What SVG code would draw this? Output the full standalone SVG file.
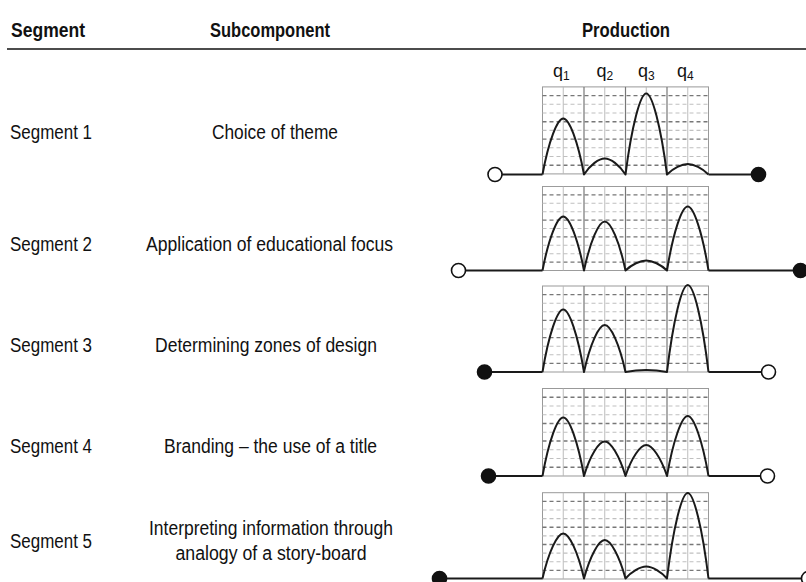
<svg xmlns="http://www.w3.org/2000/svg" xmlns:xlink="http://www.w3.org/1999/xlink" width="806" height="582" viewBox="0 0 806 582">
<style>
  .hd{font-family:"Liberation Sans Narrow","Liberation Sans",Arial,sans-serif;font-weight:bold;font-size:20px;fill:#111}
  .tx{font-family:"Liberation Sans Narrow","Liberation Sans",Arial,sans-serif;font-size:20px;fill:#111}
  .q{font-family:"Liberation Sans",Arial,sans-serif;font-size:18px;fill:#111}
  .sub{font-size:12px}
  .curve{fill:none;stroke:#1a1a1a;stroke-width:2;stroke-linejoin:round}
  .base{fill:none;stroke:#1a1a1a;stroke-width:1.8}
  .open{fill:#fff;stroke:#111;stroke-width:1.6}
  .filled{fill:#111;stroke:#111;stroke-width:1.6}
  .gb{fill:none;stroke:#999;stroke-width:1}
  .gq{stroke:#777;stroke-width:1.2}
  .gm{stroke:#b5b5b5;stroke-width:0.9}
  .dd{stroke:#777;stroke-width:1.4;stroke-dasharray:4 3}
  .dl{stroke:#c0c0c0;stroke-width:1.1;stroke-dasharray:4 3}
</style>
<defs>
  <g id="grid">
    <rect class="gb" x="0" y="0" width="166" height="87"/>
    <line class="dd" x1="0" y1="8.7" x2="166" y2="8.7"/>
    <line class="dl" x1="0" y1="17.4" x2="166" y2="17.4"/>
    <line class="dl" x1="0" y1="26.1" x2="166" y2="26.1"/>
    <line class="dd" x1="0" y1="34.8" x2="166" y2="34.8"/>
    <line class="dl" x1="0" y1="43.5" x2="166" y2="43.5"/>
    <line class="dd" x1="0" y1="52.2" x2="166" y2="52.2"/>
    <line class="dl" x1="0" y1="60.9" x2="166" y2="60.9"/>
    <line class="dl" x1="0" y1="69.6" x2="166" y2="69.6"/>
    <line class="dd" x1="0" y1="78.3" x2="166" y2="78.3"/>
    <line class="gm" x1="20.75" y1="0" x2="20.75" y2="87"/>
    <line class="gm" x1="62.25" y1="0" x2="62.25" y2="87"/>
    <line class="gm" x1="103.75" y1="0" x2="103.75" y2="87"/>
    <line class="gm" x1="145.25" y1="0" x2="145.25" y2="87"/>
    <line class="gq" x1="41.5" y1="0" x2="41.5" y2="87"/>
    <line class="gq" x1="83" y1="0" x2="83" y2="87"/>
    <line class="gq" x1="124.5" y1="0" x2="124.5" y2="87"/>
  </g>
</defs>
<rect width="806" height="582" fill="#fff"/>

<g id="header">
  <text class="hd" x="11" y="37" textLength="74" lengthAdjust="spacingAndGlyphs">Segment</text>
  <text class="hd" x="210" y="37" textLength="120" lengthAdjust="spacingAndGlyphs">Subcomponent</text>
  <text class="hd" x="582" y="37" textLength="88" lengthAdjust="spacingAndGlyphs">Production</text>
  <line x1="7" y1="49" x2="806" y2="49" stroke="#111" stroke-width="1.6"/>
</g>

<g id="segment1">
  <text class="tx" x="10" y="138.5" textLength="82" lengthAdjust="spacingAndGlyphs">Segment 1</text>
  <text class="tx" x="212" y="138.5" textLength="126" lengthAdjust="spacingAndGlyphs">Choice of theme</text>
  <use xlink:href="#grid" href="#grid" transform="translate(542.5,86.9)"/>
  <text class="q" x="553" y="77">q<tspan class="sub" dy="3">1</tspan></text>
  <text class="q" x="596.5" y="77">q<tspan class="sub" dy="3">2</tspan></text>
  <text class="q" x="638" y="77">q<tspan class="sub" dy="3">3</tspan></text>
  <text class="q" x="677" y="77">q<tspan class="sub" dy="3">4</tspan></text>
</g>

<g id="segment2">
  <text class="tx" x="10" y="251" textLength="82" lengthAdjust="spacingAndGlyphs">Segment 2</text>
  <text class="tx" x="146" y="251" textLength="247" lengthAdjust="spacingAndGlyphs">Application of educational focus</text>
  <use xlink:href="#grid" href="#grid" transform="translate(542.5,186.5) scale(1,0.9655)"/>
</g>

<g id="segment3">
  <text class="tx" x="10" y="352" textLength="82" lengthAdjust="spacingAndGlyphs">Segment 3</text>
  <text class="tx" x="155" y="352" textLength="222" lengthAdjust="spacingAndGlyphs">Determining zones of design</text>
  <use xlink:href="#grid" href="#grid" transform="translate(542.5,286) scale(1,0.9885)"/>
</g>

<g id="segment4">
  <text class="tx" x="10" y="453" textLength="82" lengthAdjust="spacingAndGlyphs">Segment 4</text>
  <text class="tx" x="164" y="453" textLength="213" lengthAdjust="spacingAndGlyphs">Branding – the use of a title</text>
  <use xlink:href="#grid" href="#grid" transform="translate(542.5,388.5) scale(1,1.0057)"/>
</g>

<g id="segment5">
  <text class="tx" x="10" y="547.5" textLength="82" lengthAdjust="spacingAndGlyphs">Segment 5</text>
  <text class="tx" x="149" y="534.5" textLength="244" lengthAdjust="spacingAndGlyphs">Interpreting information through</text>
  <text class="tx" x="175.5" y="559.5" textLength="191" lengthAdjust="spacingAndGlyphs">analogy of a story-board</text>
  <use xlink:href="#grid" href="#grid" transform="translate(542.5,492.7) scale(1,0.992)"/>
</g>

<g id="connectors">
  <!-- chart 1 -->
  <path class="base" d="M495 174.5 H542.5 M708.5 174.5 H758.5"/>
  <path class="curve" d="M542.5 174.5 C548.7 140.9 557.4 118.5 563.25 118.5 S577.8 140.9 584 174.5 C590.2 164.9 598.9 158.5 604.75 158.5 S619.3 164.9 625.5 174.5 C631.7 125.9 640.4 93.5 646.25 93.5 S660.8 125.9 667 174.5 C673.2 168.2 681.9 164 687.75 164 S702.3 168.2 708.5 174.5"/>
  <circle class="open" cx="495" cy="174.5" r="7"/>
  <circle class="filled" cx="758.5" cy="174.5" r="7"/>
  <!-- chart 2 -->
  <path class="base" d="M458.5 270.5 H542.5 M708.5 270.5 H800.5"/>
  <path class="curve" d="M542.5 270.5 C548.7 238.1 557.4 216.5 563.25 216.5 S577.8 238.1 584 270.5 C590.2 241.1 598.9 221.5 604.75 221.5 S619.3 241.1 625.5 270.5 C631.7 264.5 640.4 260.5 646.25 260.5 S660.8 264.5 667 270.5 C673.2 232.1 681.9 206.5 687.75 206.5 S702.3 232.1 708.5 270.5"/>
  <circle class="open" cx="458.5" cy="270.5" r="7"/>
  <circle class="filled" cx="800.5" cy="270.5" r="7"/>
  <!-- chart 3 -->
  <path class="base" d="M484.5 372 H542.5 M708.5 372 H768.5"/>
  <path class="curve" d="M542.5 372 C548.7 334.5 557.4 309.5 563.25 309.5 S577.8 334.5 584 372 C590.2 343.8 598.9 325 604.75 325 S619.3 343.8 625.5 372 C631.7 370.8 640.4 370 646.25 370 S660.8 370.8 667 372 C673.2 319.8 681.9 285 687.75 285 S702.3 319.8 708.5 372"/>
  <circle class="filled" cx="484.5" cy="372" r="7"/>
  <circle class="open" cx="768.5" cy="372" r="7"/>
  <!-- chart 4 -->
  <path class="base" d="M488.5 476 H542.5 M708.5 476 H767.5"/>
  <path class="curve" d="M542.5 476 C548.7 440.9 557.4 417.5 563.25 417.5 S577.8 440.9 584 476 C590.2 455.3 598.9 441.5 604.75 441.5 S619.3 455.3 625.5 476 C631.7 457.4 640.4 445 646.25 445 S660.8 457.4 667 476 C673.2 440 681.9 416 687.75 416 S702.3 440 708.5 476"/>
  <circle class="filled" cx="488.5" cy="476" r="7"/>
  <circle class="open" cx="767.5" cy="476" r="7"/>
  <!-- chart 5 -->
  <path class="base" d="M439.5 578.5 H542.5 M708.5 578.5 H808.5"/>
  <path class="curve" d="M542.5 578.5 C548.7 551.7 557.4 533.5 563.25 533.5 S577.8 551.7 584 578.5 C590.2 555.6 598.9 540 604.75 540 S619.3 555.6 625.5 578.5 C631.7 571.5 640.4 566.5 646.25 566.5 S660.8 571.5 667 578.5 C673.2 527.4 681.9 493 687.75 493 S702.3 527.4 708.5 578.5"/>
  <circle class="filled" cx="439.5" cy="578.5" r="7"/>
  <circle class="open" cx="808.5" cy="578.5" r="7"/>
</g>
</svg>
